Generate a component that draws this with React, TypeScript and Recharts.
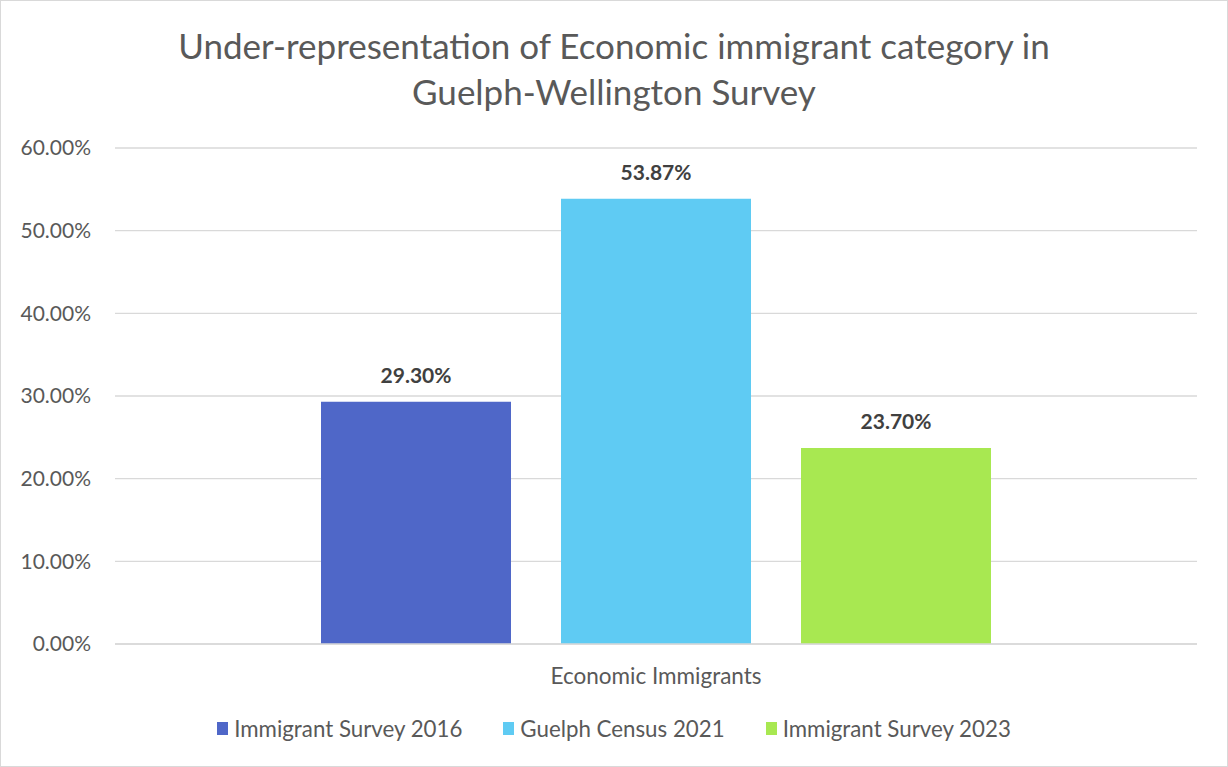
import React from 'react';
import { BarChart, Bar, XAxis, YAxis, CartesianGrid, LabelList } from 'recharts';

const categories = ['Economic Immigrants'];
const seriesNames = ['Immigrant Survey 2016', 'Guelph Census 2021', 'Immigrant Survey 2023'];
const survey2016 = [29.3];
const census2021 = [53.87];
const survey2023 = [23.7];
const yTicks = [0, 10, 20, 30, 40, 50, 60];
const colors = ['#4f67c8', '#5fcbf3', '#a8e851'];

const data = categories.map((name, i) => ({
  name,
  s0: survey2016[i],
  s1: census2021[i],
  s2: survey2023[i],
}));

const FONT = 'Lato, "Open Sans", sans-serif';
const pct = (v: number) => `${Number(v).toFixed(2)}%`;

export default function App() {
  return (
    <div style={{ position: 'absolute', left: 0, top: 0, width: 1228, height: 767, background: '#fff', fontFamily: FONT }}>
      <div style={{ position: 'absolute', left: 0, top: 0, width: 1226, height: 765, border: '1px solid #d9d9d9' }} />
      <div
        style={{
          position: 'absolute',
          top: 22,
          left: 0,
          width: 1228,
          textAlign: 'center',
          fontSize: 35,
          lineHeight: '46px',
          color: '#595959',
        }}
      >
        Under-representation of Economic immigrant category in
        <br />
        Guelph-Wellington Survey
      </div>
      <BarChart
        width={1228}
        height={767}
        data={data}
        margin={{ top: 148, right: 31, left: 0, bottom: 63 }}
        barCategoryGap={206}
        barGap={50}
        style={{ position: 'absolute', left: 0, top: 0 }}
      >
        <CartesianGrid vertical={false} stroke="#d9d9d9" strokeWidth={1.3} />
        <XAxis
          dataKey="name"
          height={60}
          stroke="#d9d9d9"
          strokeWidth={1.3}
          tickLine={false}
          tickMargin={18}
          tick={{ fill: '#595959', fontSize: 22.5, fontFamily: FONT }}
        />
        <YAxis
          width={115}
          domain={[0, 60]}
          ticks={yTicks}
          axisLine={false}
          tickLine={false}
          tickMargin={18}
          tickFormatter={pct}
          tick={{ fill: '#595959', fontSize: 21, fontFamily: FONT }}
        />
        {seriesNames.map((n, i) => (
          <Bar key={n} dataKey={`s${i}`} name={n} fill={colors[i]} isAnimationActive={false}>
            <LabelList
              dataKey={`s${i}`}
              position="top"
              offset={19}
              formatter={(v: any) => pct(v)}
              style={{ fill: '#404040', fontSize: 21, fontWeight: 700, fontFamily: FONT }}
            />
          </Bar>
        ))}
      </BarChart>
      <div
        style={{
          position: 'absolute',
          top: 715,
          left: 0,
          width: 1228,
          display: 'flex',
          justifyContent: 'center',
          gap: 41,
          fontSize: 22.3,
          color: '#595959',
        }}
      >
        {seriesNames.map((n, i) => (
          <div key={n} style={{ display: 'flex', alignItems: 'center' }}>
            <span style={{ display: 'inline-block', width: 11, height: 13, background: colors[i], marginRight: 6 }} />
            <span>{n}</span>
          </div>
        ))}
      </div>
    </div>
  );
}
